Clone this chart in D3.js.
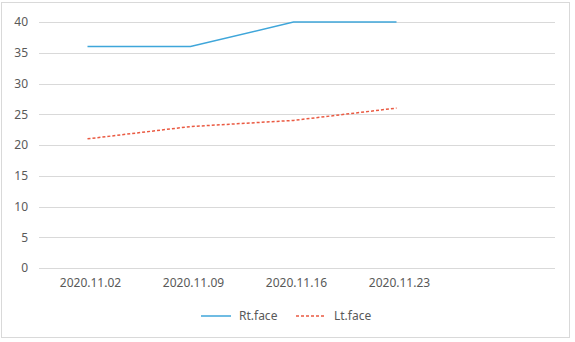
<!DOCTYPE html>
<html>
<head>
<meta charset="utf-8">
<script src="https://cdn.jsdelivr.net/npm/d3@7"></script>
<style>
  body { margin: 0; background: #fff; }
  text { font-family: "Noto Sans", "Open Sans", sans-serif; fill: #595959; }
</style>
</head>
<body>
<div id="chart"></div>
<script>
var categories = ["2020.11.02", "2020.11.09", "2020.11.16", "2020.11.23", ""];
var rtFace = [36, 36, 40, 40];
var ltFace = [21, 23, 24, 26];
var yTicks = [0, 5, 10, 15, 20, 25, 30, 35, 40];

var W = 575, H = 342;

var svg = d3.select('#chart').append('svg')
  .attr('width', W)
  .attr('height', H);

// outer frame
svg.append('rect')
  .attr('x', 1.5).attr('y', 2.5)
  .attr('width', 568).attr('height', 335)
  .attr('fill', '#fff')
  .attr('stroke', '#d9d9d9');

var x = d3.scaleBand()
  .domain(categories)
  .range([36, 551]);

var y = d3.scaleLinear()
  .domain([0, 40])
  .range([268, 22]);

// grid lines
svg.append('g').selectAll('line')
  .data(yTicks)
  .enter().append('line')
    .attr('x1', 39).attr('x2', 555)
    .attr('y1', function (d) { return Math.round(y(d)) + 0.5; })
    .attr('y2', function (d) { return Math.round(y(d)) + 0.5; })
    .attr('stroke', '#d9d9d9')
    .attr('stroke-width', 1);

// y labels
var yAxis = d3.axisLeft(y).tickValues(yTicks).tickSize(0).tickPadding(0);
var gy = svg.append('g')
  .attr('transform', 'translate(28,0)')
  .call(yAxis);
gy.select('.domain').remove();
gy.selectAll('text').style('font-size', '12px').attr('fill', '#595959');

// x labels
var xAxis = d3.axisBottom(x).tickSize(0).tickPadding(0);
var gx = svg.append('g')
  .attr('transform', 'translate(3,278)')
  .call(xAxis);
gx.select('.domain').remove();
gx.selectAll('text').style('font-size', '12px').attr('fill', '#595959');

function px(i) { return x(categories[i]) + x.bandwidth() / 2; }

var line = d3.line()
  .x(function (d, i) { return px(i); })
  .y(function (d) { return y(d); });

svg.append('path')
  .datum(rtFace)
  .attr('d', line)
  .attr('fill', 'none')
  .attr('stroke', '#3fa6da')
  .attr('stroke-width', 1.5);

svg.append('path')
  .datum(ltFace)
  .attr('d', line)
  .attr('fill', 'none')
  .attr('stroke', '#ea5a42')
  .attr('stroke-width', 1.5)
  .attr('stroke-dasharray', '3,2');

// legend
var legend = [
  ["Rt.face", '#3fa6da', null, 201],
  ["Lt.face", '#ea5a42', '3,2', 296]
];
var lg = svg.append('g');
lg.selectAll('line')
  .data(legend)
  .enter().append('line')
    .attr('x1', function (d) { return d[3]; })
    .attr('x2', function (d) { return d[3] + 30; })
    .attr('y1', 316).attr('y2', 316)
    .attr('stroke', function (d) { return d[1]; })
    .attr('stroke-width', 1.5)
    .attr('stroke-dasharray', function (d) { return d[2]; });
lg.selectAll('text')
  .data(legend)
  .enter().append('text')
    .attr('x', function (d) { return d[3] + 38; })
    .attr('y', 320)
    .style('font-size', '12px')
    .text(function (d) { return d[0]; });
</script>
</body>
</html>
